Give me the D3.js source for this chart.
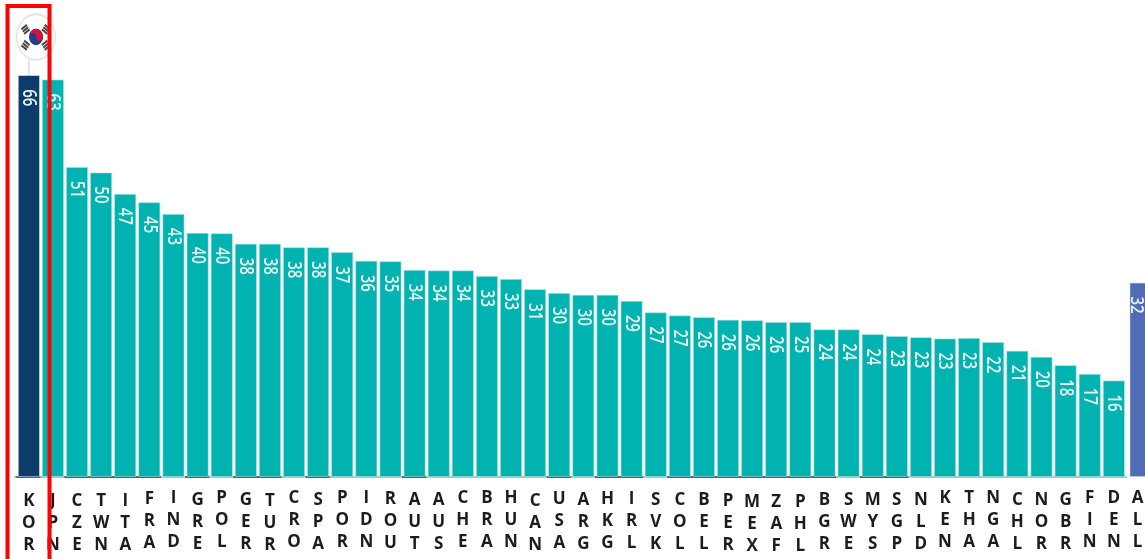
<!DOCTYPE html>
<html>
<head>
<meta charset="utf-8">
<script src="https://cdn.jsdelivr.net/npm/d3@7/dist/d3.min.js"></script>
<style>
html,body{margin:0;padding:0;background:#fff;overflow:hidden}
svg{display:block}
</style>
</head>
<body>
<div id="chart"></div>
<script>
const categories = ["KOR","JPN","CZE","TWN","ITA","FRA","IND","GRE","POL","GER","TUR","CRO","SPA","POR","IDN","ROU","AUT","AUS","CHE","BRA","HUN","CAN","USA","ARG","HKG","IRL","SVK","COL","BEL","PER","MEX","ZAF","PHL","BGR","SWE","MYS","SGP","NLD","KEN","THA","NGA","CHL","NOR","GBR","FIN","DEN"];
const averageCategory = ["ALL"];
const heights = [66.0,65.3,50.9,50.0,46.5,45.1,43.2,40.1,40.0,38.3,38.3,37.7,37.7,36.9,35.5,35.4,34.0,33.9,33.9,33.0,32.5,30.8,30.2,29.9,29.9,28.9,27.0,26.5,26.2,25.8,25.7,25.4,25.4,24.2,24.2,23.4,23.1,22.9,22.7,22.8,22.1,20.7,19.7,18.3,16.9,15.8];
const valueLabels = [66,63,51,50,47,45,43,40,40,38,38,38,38,37,36,35,34,34,34,33,33,31,30,30,30,29,27,27,26,26,26,26,25,24,24,24,23,23,23,23,22,21,20,18,17,16];
const averageHeight = [31.9];
const averageLabel = [32];

const W = 1145, H = 559, BASE = 477;
const COLORS = {teal:"#00b3b0", korea:"#0c3a6a", average:"#4f6cb5", edge:"#9fe0dc", label:"#e6f4ee", text:"#1c1c1c"};
const labelRowNudge = {FRA:-1,IND:-2,POL:-2,CRO:-2,POR:-2,IDN:-2,ROU:-1,CHE:-2,BRA:-2,HUN:-2,USA:-1,HKG:-1,IRL:-1,KEN:-2,THA:-2,NGA:-2,FIN:-2,DEN:-2,ALL:-2,KOR:1,JPN:1,CZE:1,TWN:1,ITA:1,TUR:1,MEX:2,ZAF:2,PHL:2,CAN:1,PER:1};
const darkBase = new Set(["KOR","CZE","TWN","ITA","FRA","GRE","GER","TUR","SPA","AUT","USA","HKG","IRL","COL","BEL","PER","MEX","ZAF","PHL","BGR","MYS","SGP"]);

const y = d3.scaleLinear().domain([0, 66]).range([BASE, BASE - 66 * 6.08]);
const x = d3.scaleBand().domain(categories).range([16.8, 1125.8]).paddingInner(0.125).paddingOuter(0.06);
const xAvg = d3.scaleBand().domain(averageCategory).range([1130, 1145]);

const svg = d3.select("#chart").append("svg").attr("width", W).attr("height", H);
const defs = svg.append("defs");
defs.append("filter").attr("id","soft").attr("x","-5%").attr("y","-5%").attr("width","110%").attr("height","110%")
  .append("feGaussianBlur").attr("stdDeviation",0.4);
const root = svg.append("g").attr("filter","url(#soft)");

// baseline
root.append("line").attr("x1",14).attr("x2",1127).attr("y1",BASE).attr("y2",BASE).attr("stroke","#6f8f8e").attr("stroke-width",1);
root.selectAll("line.dark").data(categories.filter(c=>darkBase.has(c))).join("line").attr("class","dark")
  .attr("x1",c=>x(c)-2).attr("x2",c=>x(c)+x.bandwidth()+1).attr("y1",BASE).attr("y2",BASE)
  .attr("stroke","#1d3a3a").attr("stroke-width",1.4);

// bars
const rows = categories.map((c,i)=>({c, h:heights[i], l:valueLabels[i], scale:x, fill:i===0?COLORS.korea:COLORS.teal}));
rows.push({c:averageCategory[0], h:averageHeight[0], l:averageLabel[0], scale:xAvg, fill:COLORS.average});

root.selectAll("rect.bar").data(rows).join("rect").attr("class","bar")
  .attr("x",d=>d.scale(d.c)).attr("y",d=>y(d.h))
  .attr("width",d=>d.scale.bandwidth()+(d.scale===xAvg?4:0)).attr("height",d=>BASE-y(d.h)-0.5)
  .attr("fill",d=>d.fill)
  .attr("stroke",d=>d.fill===COLORS.teal?COLORS.edge:"#c5d2e6").attr("stroke-width",0.6);

// value labels: stretched across the bar, as in the reference
root.selectAll("text.val").data(rows).join("text").attr("class","val")
  .attr("transform",d=>`translate(${d.scale(d.c)+d.scale.bandwidth()/2+(d.scale===xAvg?-0.5:1.5)},${y(d.h)+13.5}) rotate(90) scale(1,${d.scale===xAvg?1.2:1.35})`)
  .attr("dy","0.36em")
  .attr("font-family","'Open Sans',sans-serif").attr("font-size",15).attr("font-weight",600)
  .attr("fill",COLORS.label).text(d=>d.l);

// stacked category labels
const axisRow = root.selectAll("g.lab").data(rows).join("g").attr("class","lab")
  .attr("transform",d=>`translate(${d.scale(d.c)+d.scale.bandwidth()/2},${(labelRowNudge[d.c]||0)})`);
axisRow.selectAll("text").data(d=>d.c.split("")).join("text")
  .attr("x",0).attr("y",(ch,i)=>505+i*22)
  .attr("text-anchor","middle")
  .attr("font-family","'Open Sans',sans-serif").attr("font-size",17).attr("font-weight",700)
  .attr("fill",COLORS.text).text(ch=>ch);

// flag badge for the first bar
const kx = x(categories[0]) + x.bandwidth()/2;
const topK = y(heights[0]);
root.append("line").attr("x1",kx).attr("x2",kx).attr("y1",topK-16).attr("y2",topK-1).attr("stroke","#dedede").attr("stroke-width",1.6);
const flag = root.append("g").attr("transform",`translate(${kx+7.2},${topK-38.7}) scale(1,1.18)`);
flag.append("circle").attr("r",19.3).attr("fill","#fff").attr("stroke","#e4e4e4").attr("stroke-width",1.5);
const r = 7;
flag.append("circle").attr("r",r).attr("fill","#1f3f8f");
flag.append("path").attr("d",`M${-r},0 A${r},${r} 0 0 1 ${r},0 A${r/2},${r/2} 0 0 1 0,0 A${r/2},${r/2} 0 0 0 ${-r},0 Z`).attr("fill","#cf1238");
[[-10.5,-6.5,-35],[10,-6.5,35],[-10.5,7,35],[10,7,-35]].forEach(([tx,ty,a])=>{
  const g = flag.append("g").attr("transform",`translate(${tx},${ty}) rotate(${a})`);
  [-2.4,0,2.4].forEach(o=>g.append("rect").attr("x",-3.3).attr("y",o-0.9).attr("width",6.6).attr("height",1.8).attr("fill","#444"));
});

// red highlight frame
svg.append("rect").attr("x",7.5).attr("y",6).attr("width",42).attr("height",H+20)
  .attr("fill","none").attr("stroke","#ff0000").attr("stroke-width",4);
</script>
</body>
</html>
